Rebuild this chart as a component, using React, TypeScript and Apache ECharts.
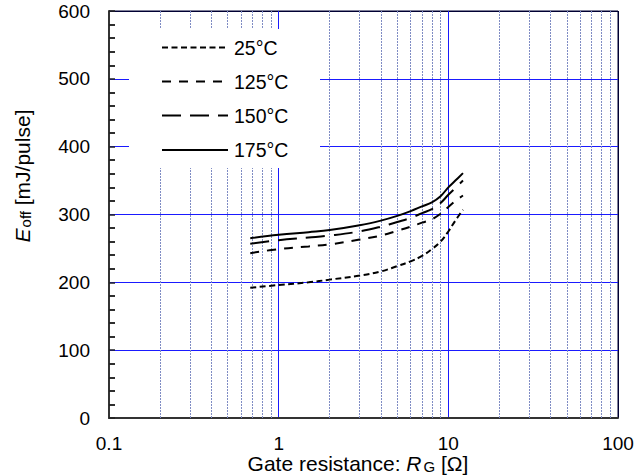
import React, { useEffect, useRef } from "react";
import * as echarts from "echarts";

const rg = [0.68, 1, 1.5, 2, 3, 4, 5, 6, 7, 8, 9, 10, 11, 12.2];
const e25 = [192, 196, 200, 204, 210, 216, 224, 231, 239, 249, 260, 275, 291, 307];
const e125 = [243, 249, 253, 256, 263, 269, 276, 282, 288, 293, 301, 311, 320, 328];
const e150 = [257, 262, 266, 269, 275, 282, 289, 295, 302, 308, 317, 329, 339, 350];
const e175 = [265, 270, 274, 277, 284, 291, 298, 305, 312, 318, 327, 340, 350, 361];
const seriesNames = ["25°C", "125°C", "150°C", "175°C"];
const minorGridX = [0.2, 0.3, 0.4, 0.5, 0.6, 0.7, 0.8, 0.9, 2, 3, 4, 5, 6, 7, 8, 9, 20, 30, 40, 50, 60, 70, 80, 90];
const yTicks = [0, 100, 200, 300, 400, 500, 600];
const yMinorTicks = [20, 40, 60, 80, 120, 140, 160, 180, 220, 240, 260, 280, 320, 340, 360, 380, 420, 440, 460, 480, 520, 540, 560, 580];

const dashes: (number[] | "solid")[] = [[6, 3.5], [9, 8], [19, 9], "solid"];

export default function App() {
  const ref = useRef<HTMLDivElement>(null);
  useEffect(() => {
    if (!ref.current) return;
    document.body.style.margin = "0";
    const chart = echarts.init(ref.current, undefined, { renderer: "svg" });
    const font = "Liberation Sans";
    const allData = [e25, e125, e150, e175];
    const series: any[] = allData.map((d, i) => ({
      name: seriesNames[i],
      type: "line",
      data: rg.map((x, j) => [x, d[j]]),
      showSymbol: false,
      smooth: 0.4,
      z: 5,
      lineStyle: { color: "#000", width: 2, type: dashes[i] },
    }));
    series.push({
      type: "line",
      data: [],
      silent: true,
      markLine: {
        silent: true,
        symbol: "none",
        label: { show: false },
        lineStyle: { color: "#7f8cc4", width: 1, type: [2, 1] },
        data: minorGridX.map((v) => ({ xAxis: v })),
      },
      z: 1,
    });
    series.push({
      type: "line",
      data: [],
      silent: true,
      markLine: {
        silent: true,
        symbol: "none",
        label: { show: false },
        lineStyle: { color: "#222", width: 1.5, type: "solid" },
        data: yMinorTicks.map((v) => [
          { coord: [0.1, v] },
          { coord: [0.1085, v] },
        ]),
      },
      z: 6,
    });
    const legendY = [47.5, 81.5, 115.5, 150];
    const graphics: any[] = [
      {
        type: "rect",
        shape: { x: 129, y: 29, width: 191, height: 139 },
        style: { fill: "#fff" },
        z: 50,
      },
    ];
    legendY.forEach((y, i) => {
      graphics.push({
        type: "line",
        shape: { x1: 162, y1: y, x2: 228, y2: y },
        style: {
          stroke: "#000",
          lineWidth: 2,
          lineDash: dashes[i] === "solid" ? null : dashes[i],
        },
        z: 51,
      });
      graphics.push({
        type: "text",
        x: 234,
        y: y,
        style: {
          text: seriesNames[i],
          fontSize: 19.5,
          fontFamily: font,
          fill: "#000",
          verticalAlign: "middle",
        },
        z: 51,
      });
    });
    graphics.push({
      type: "text",
      x: 358,
      y: 463,
      style: {
        text: "Gate resistance: {i|R}{s|G} [Ω]",
        rich: {
          i: { fontStyle: "italic", fontSize: 21, fontFamily: font, fill: "#000", lineHeight: 18 },
          s: { fontSize: 15, fontFamily: font, padding: [6, 0, 0, 2], fill: "#000", lineHeight: 18 },
        },
        fontSize: 21,
        lineHeight: 18,
        fontFamily: font,
        fill: "#000",
        align: "center",
        verticalAlign: "middle",
      },
      z: 51,
    });
    graphics.push({
      type: "text",
      x: 22,
      y: 176,
      rotation: Math.PI / 2,
      style: {
        text: "{i|E}{s|off} [mJ/pulse]",
        rich: {
          i: { fontStyle: "italic", fontSize: 21, fontFamily: font, fill: "#000" },
          s: { fontSize: 15, fontFamily: font, padding: [6, 0, 0, 1], fill: "#000" },
        },
        fontSize: 21,
        fontFamily: font,
        fill: "#000",
        align: "center",
        verticalAlign: "middle",
      },
      z: 51,
    });

    chart.setOption({
      animation: false,
      grid: {
        left: 109,
        right: 21,
        top: 11,
        bottom: 57,
        show: true,
        borderColor: "#000033",
        borderWidth: 1,
        backgroundColor: "transparent",
      },
      xAxis: {
        type: "log",
        logBase: 10,
        min: 0.1,
        max: 100,
        axisLine: { show: true, lineStyle: { color: "#333", width: 2 } },
        axisTick: { show: false },
        axisLabel: {
          color: "#000",
          fontSize: 19,
          lineHeight: 14,
          fontFamily: font,
          margin: 18,
          formatter: (v: number) => String(+v.toPrecision(3)),
        },
        splitLine: {
          show: true,
          lineStyle: { color: ["#333", "#1a1aff", "#1a1aff", "#000033"], width: 1 },
        },
      },
      yAxis: {
        type: "value",
        min: yTicks[0],
        max: yTicks[yTicks.length - 1],
        interval: 100,
        axisLine: { show: true, lineStyle: { color: "#333", width: 2 } },
        axisTick: { show: true, inside: true, length: 6, lineStyle: { color: "#222", width: 1.5 } },
        minorTick: { show: true, splitNumber: 5, length: 6, lineStyle: { color: "#222", width: 1.5 } },
        axisLabel: { color: "#000", fontSize: 19, fontFamily: font, margin: 19 },
        splitLine: {
          show: true,
          lineStyle: {
            color: ["#333", "#1a1aff", "#1a1aff", "#1a1aff", "#1a1aff", "#1a1aff", "#000033"],
            width: 1,
          },
        },
      },
      series,
      graphic: graphics,
    });
    return () => chart.dispose();
  }, []);
  return <div ref={ref} style={{ width: 639, height: 475 }} />;
}
